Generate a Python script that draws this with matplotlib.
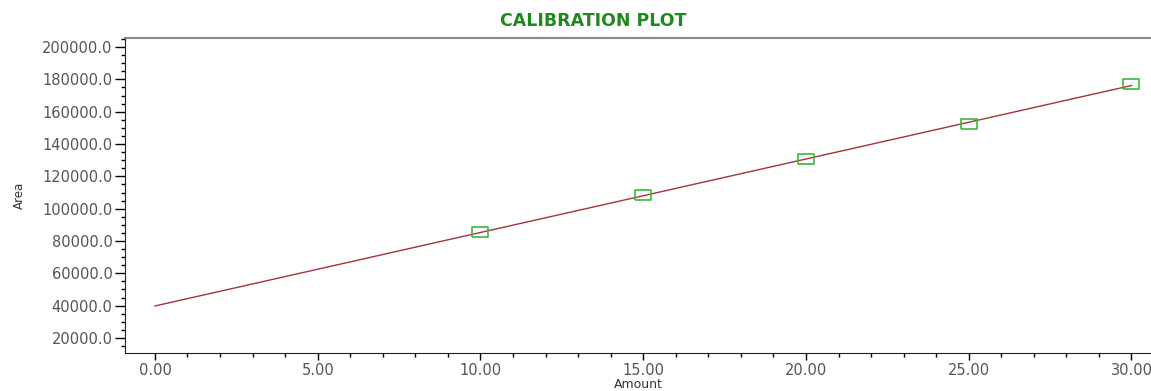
import numpy as np
import matplotlib.pyplot as plt
from matplotlib.ticker import MultipleLocator, FormatStrFormatter

plt.rcParams['font.family'] = ['DejaVu Sans']

# puntos de calibracion
amount = [10.0, 15.0, 20.0, 25.0, 30.0]
area = [85600, 108500, 130800, 152500, 177300]

# recta de regresion (extremos)
line_x = [0.0, 30.0]
line_y = [39800, 176200]

fig = plt.figure(figsize=(11.51, 3.91), dpi=100)
ax = fig.add_axes([125/1151, 38/391, 1 - 125/1151, (353-38)/391])

ax.plot(line_x, line_y, color='#a8303c', lw=1.0, zorder=2)
rect = [(-1.7, -1), (1.7, -1), (1.7, 1), (-1.7, 1), (-1.7, -1)]
ax.plot(amount, area, linestyle='none', marker=rect, markersize=12,
        markerfacecolor='none', markeredgecolor='#3cb83c', markeredgewidth=1.2, zorder=3)

ax.set_xlim(-0.92, 30.6)
ax.set_ylim(10700, 205600)

ax.xaxis.set_major_locator(MultipleLocator(5))
ax.xaxis.set_minor_locator(MultipleLocator(1))
ax.yaxis.set_major_locator(MultipleLocator(20000))
ax.yaxis.set_minor_locator(MultipleLocator(5000))
ax.xaxis.set_major_formatter(FormatStrFormatter('%.2f'))
ax.yaxis.set_major_formatter(FormatStrFormatter('%.1f'))

ax.tick_params(axis='both', which='major', direction='out', length=7, width=1,
               labelsize=10.5, labelcolor='#555555', pad=2)
ax.tick_params(axis='both', which='minor', direction='out', length=3, width=1)
ax.tick_params(axis='x', which='major', length=5)

ax.spines['right'].set_visible(False)
ax.spines['top'].set_color('#888888')
ax.spines['top'].set_linewidth(1.5)
ax.spines['left'].set_color('#222222')
ax.spines['bottom'].set_color('#222222')

ax.set_title('CALIBRATION PLOT', color='#1e8a1e', fontweight='bold', fontsize=12.5, pad=9, x=0.456)
ax.set_xlabel('Amount', fontsize=9, color='#333333', labelpad=0)
ax.set_ylabel('Area', fontsize=8.5, color='#333333', labelpad=12)

plt.savefig('out.png', dpi=100)
